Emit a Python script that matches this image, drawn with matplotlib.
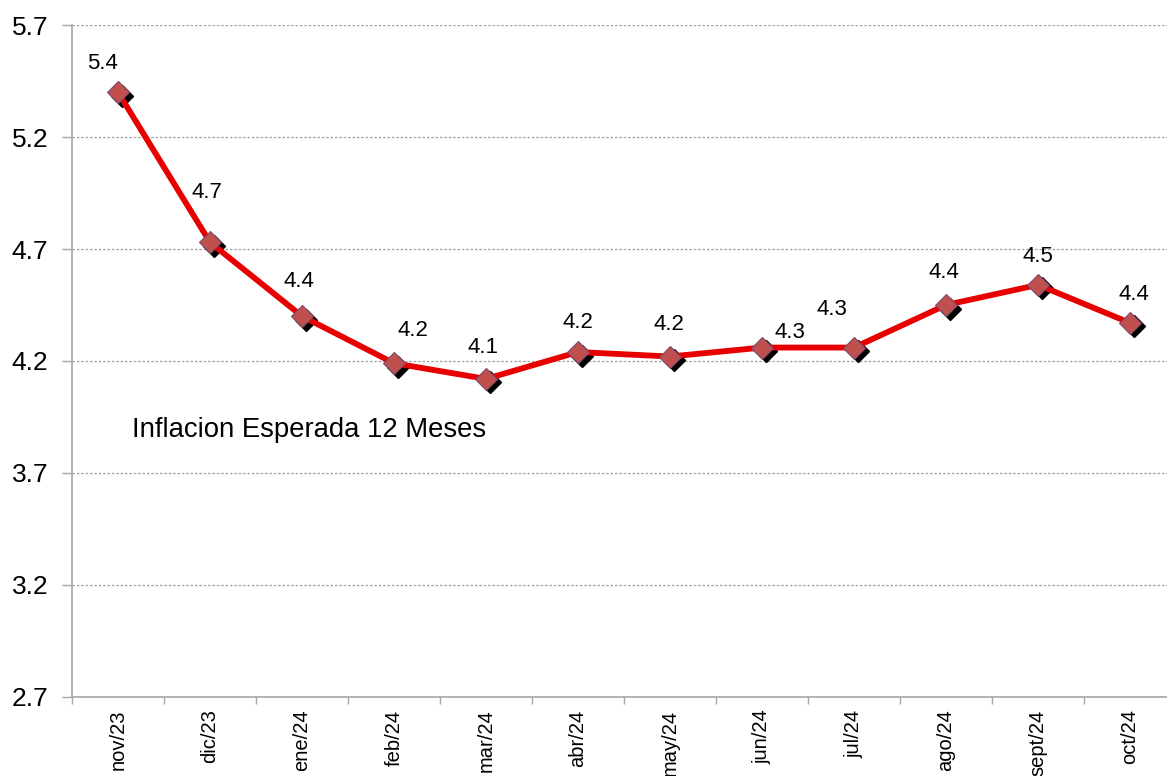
import matplotlib.pyplot as plt
import matplotlib.transforms as mtransforms
import numpy as np

# datos: inflacion esperada a 12 meses
meses = ["nov/23", "dic/23", "ene/24", "feb/24", "mar/24", "abr/24",
         "may/24", "jun/24", "jul/24", "ago/24", "sept/24", "oct/24"]
inflacion = [5.40, 4.73, 4.40, 4.19, 4.12, 4.24, 4.22, 4.26, 4.26, 4.45, 4.54, 4.37]
etiquetas = ["5.4", "4.7", "4.4", "4.2", "4.1", "4.2", "4.2", "4.3", "4.3", "4.4", "4.5", "4.4"]
y_ticks = [2.7, 3.2, 3.7, 4.2, 4.7, 5.2, 5.7]

# desplazamiento de cada etiqueta en pixeles (x, y)
offsets = [(-16, 29), (-3, 50), (-3, 35), (19, 33), (-3, 31), (0, 30),
           (-1, 32), (28, 15), (-22, 38), (-2, 32), (0, 28), (4, 28)]

plt.rcParams['font.family'] = ['Liberation Sans', 'DejaVu Sans']

fig = plt.figure(figsize=(11.67, 7.76), dpi=100)
W, H = 1167, 776
ax = fig.add_axes([72 / W, (H - 697) / H, (1176 - 72) / W, (697 - 25) / H])

x = np.arange(len(meses))

# sombra negra de los marcadores
sombra = ax.transData + mtransforms.ScaledTranslation(3.5 / 100, -3.5 / 100, fig.dpi_scale_trans)
ax.plot(x, inflacion, linestyle="none", marker="D", markersize=11.5,
        color="black", transform=sombra, zorder=2)
ax.plot(x, inflacion, color="#E80000", linewidth=4.2, zorder=3)
ax.plot(x, inflacion, linestyle="none", marker="D", markersize=11.5,
        markerfacecolor="#C0504D", markeredgecolor="#7A4A6E", markeredgewidth=0.8, zorder=4)

for xi, yi, txt, (dx, dy) in zip(x, inflacion, etiquetas, offsets):
    ax.annotate(txt, (xi, yi), xytext=(dx * 0.72, dy * 0.72), textcoords="offset points",
                ha="center", va="center", fontsize=16, color="black")

ax.text(0.15, 3.89, "Inflacion Esperada 12 Meses", fontsize=19.8, va="center", ha="left")

ax.set_xlim(-0.5, len(meses) - 0.5)
ax.set_ylim(2.7, 5.7)
ax.set_yticks(y_ticks)
ax.set_yticklabels([f"{v:.1f}" for v in y_ticks], fontsize=19)
ax.yaxis.grid(True, linestyle=(0, (2, 1.5)), color="#A0A0A0", linewidth=0.9)
ax.set_axisbelow(True)

ax.set_xticks(x)
ax.set_xticklabels(meses, rotation=90, fontsize=14.5, va="top")
ax.set_xticks(np.arange(len(meses) + 1) - 0.5, minor=True)
ax.tick_params(axis="x", which="major", length=0, pad=9)
ax.tick_params(axis="x", which="minor", length=5, color="#A6A6A6", width=1)
ax.tick_params(axis="y", length=7, color="#A6A6A6", width=1, pad=10)

for lado in ["top", "right"]:
    ax.spines[lado].set_visible(False)
for lado in ["left", "bottom"]:
    ax.spines[lado].set_color("#A6A6A6")
    ax.spines[lado].set_linewidth(1.2)

fig.savefig("out.png", dpi=100)
plt.close(fig)
